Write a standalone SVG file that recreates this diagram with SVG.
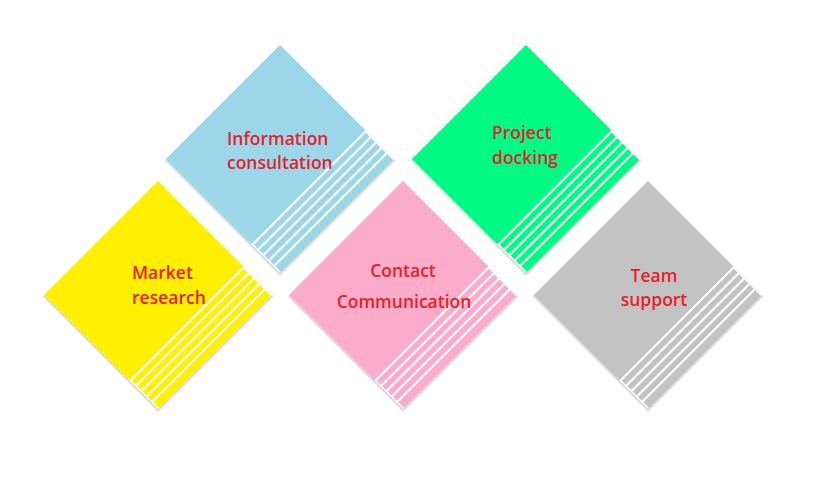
<svg xmlns="http://www.w3.org/2000/svg" xmlns:xlink="http://www.w3.org/1999/xlink" width="837" height="490" viewBox="0 0 837 490">
  <style>
    .lbl { font-family: "Open Sans", "Noto Sans", "DejaVu Sans", sans-serif; font-size: 17.5px; font-weight: 600; fill: #e8202a; }
    .mid { text-anchor: middle; }
    .shadow { fill: #d4d4d4; }
    .bg { fill: #ffffff; }
  </style>
  <defs>
    <filter id="soft" x="-10%" y="-10%" width="120%" height="120%">
      <feGaussianBlur stdDeviation="0.7"/>
    </filter>
    <g id="tile">
      <rect class="shadow" x="-80.6" y="-80.6" width="163" height="163" filter="url(#soft)"/>
      <rect class="bg" x="-80.6" y="-80.6" width="161.2" height="161.2"/>
      <rect x="-80.6" y="-80.6" width="120.6" height="161.2"/>
      <rect x="42.2" y="-79.2" width="5.4" height="158.4"/>
      <rect x="49.8" y="-79.2" width="5.4" height="158.4"/>
      <rect x="57.4" y="-79.2" width="5.4" height="158.4"/>
      <rect x="65.0" y="-79.2" width="5.4" height="158.4"/>
      <rect x="72.6" y="-79.2" width="8.0" height="158.4"/>
    </g>
  </defs>

  <g id="connectors"></g>

  <g id="node-information">
    <use xlink:href="#tile" href="#tile" transform="translate(280,159) rotate(45)" fill="#9bd7e8"/>
    <text class="lbl" x="227" y="145">Information</text>
    <text class="lbl" x="227" y="169">consultation</text>
  </g>

  <g id="node-project">
    <use xlink:href="#tile" href="#tile" transform="translate(526,159) rotate(45)" fill="#00fa84"/>
    <text class="lbl" x="492" y="139">Project</text>
    <text class="lbl" x="492" y="164">docking</text>
  </g>

  <g id="node-market">
    <use xlink:href="#tile" href="#tile" transform="translate(158,295) rotate(45)" fill="#fff000"/>
    <text class="lbl" x="132" y="279">Market</text>
    <text class="lbl" x="132" y="304">research</text>
  </g>

  <g id="node-contact">
    <use xlink:href="#tile" href="#tile" transform="translate(403,295) rotate(45)" fill="#fcacc9"/>
    <text class="lbl mid" x="403" y="277">Contact</text>
    <text class="lbl mid" x="404" y="308">Communication</text>
  </g>

  <g id="node-team">
    <use xlink:href="#tile" href="#tile" transform="translate(648,295) rotate(45)" fill="#c3c3c3"/>
    <text class="lbl mid" x="654" y="282">Team</text>
    <text class="lbl mid" x="654" y="306">support</text>
  </g>
</svg>
